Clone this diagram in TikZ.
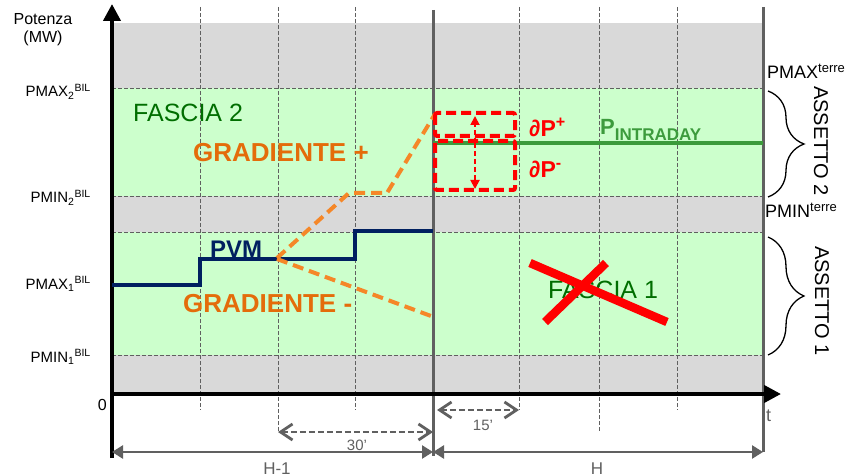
\documentclass[tikz,border=0pt]{standalone}
\usepackage{fontspec}
\setmainfont{Liberation Sans}
\usetikzlibrary{arrows.meta, positioning, decorations.pathreplacing}

\definecolor{bandgrey}{RGB}{217,217,217}
\definecolor{bandgreen}{RGB}{204,255,204}
\definecolor{fasciagreen}{RGB}{0,110,0}
\definecolor{gradorange}{RGB}{228,108,10}
\definecolor{lineorange}{RGB}{245,135,40}
\definecolor{pvmblue}{RGB}{0,32,96}
\definecolor{intragreen}{RGB}{60,155,60}
\definecolor{axisgrey}{RGB}{96,96,96}
\newcommand{\fsz}[1]{\fontsize{#1}{#1}\selectfont}

\begin{document}
\begin{tikzpicture}[x=1pt, y=-1pt,
    gridline/.style={axisgrey, line width=0.8pt, dash pattern=on 4pt off 2pt},
    hourline/.style={axisgrey, line width=3pt},
    axisline/.style={black, line width=4pt, -{Triangle[length=17pt,width=17pt]}},
    dimarrow/.style={axisgrey, line width=2.5pt, {Triangle[length=11pt,width=13pt]}-{Triangle[length=11pt,width=13pt]}},
    minarrow/.style={axisgrey, line width=2.8pt, dash pattern=on 6pt off 3pt, {Straight Barb[length=12pt,width=16pt]}-{Straight Barb[length=12pt,width=16pt]}},
    gradline/.style={lineorange, line width=4pt, dash pattern=on 11pt off 6pt},
    deltabox/.style={red, line width=4pt, dash pattern=on 10pt off 5pt, rounded corners=2pt},
    deltaarrow/.style={red, line width=1.8pt, dash pattern=on 5pt off 3pt, -{Triangle[length=9pt,width=9pt]}},
    levellabel/.style={font=\fsz{15}, anchor=base east, inner sep=0pt},
    terrelabel/.style={font=\fsz{18}, anchor=base west, inner sep=0pt},
    assetto/.style={font=\fsz{20}, rotate=-90, inner sep=0pt},
    fascia/.style={font=\fsz{25}, text=fasciagreen, anchor=base west, inner sep=0pt},
    gradlabel/.style={font=\fsz{26}\bfseries, text=gradorange, anchor=base west, inner sep=0pt},
    timelabel/.style={font=\fsz{17}, text=axisgrey, anchor=base, inner sep=0pt},
    minlabel/.style={font=\fsz{15}, text=axisgrey, anchor=base, inner sep=0pt},
    assettobrace/.style={decorate, decoration={brace, amplitude=36pt}, line width=1.3pt}
]
\useasboundingbox (0,0) rectangle (868,476);

% fasce
\fill[bandgrey] (112,23) rectangle (763,394);
\fill[bandgreen] (112,88) rectangle (763,196);
\fill[bandgreen] (112,232) rectangle (763,355);
\foreach \y in {88,196,232,355}
    \draw[gridline] (112,\y) -- (763,\y);

% quarti d'ora
\foreach \x/\b in {200/410, 278/432, 355/410, 519/410, 599/432, 677/410}
    \draw[gridline] (\x,7) -- (\x,\b);

% ore
\coordinate (h0) at (112,452);
\coordinate (h1) at (433,452);
\coordinate (h2) at (763,452);
\draw[hourline] (433,10) -- (h1) -- (433,456);
\draw[hourline] (763,7) -- (h2);

% assi
\coordinate (origin) at (112,394);
\coordinate (ytop) at (112,4);
\coordinate (xend) at (781,394);
\draw[axisline] (112,458) -- (ytop);
\draw[axisline] (origin) -- (xend);

\node[font=\fsz{16}, anchor=base, inner sep=0pt] (potenza) at (43,25) {Potenza};
\node[font=\fsz{16}, anchor=base, inner sep=0pt] (mw) at (43,43) {(MW)};
\node[levellabel] (pmax2) at (91,97) {PMAX\textsubscript{2}\textsuperscript{BIL}};
\node[levellabel] (pmin2) at (91,203) {PMIN\textsubscript{2}\textsuperscript{BIL}};
\node[levellabel] (pmax1) at (91,289) {PMAX\textsubscript{1}\textsuperscript{BIL}};
\node[levellabel] (pmin1) at (91,362) {PMIN\textsubscript{1}\textsuperscript{BIL}};
\node[font=\fsz{16}, anchor=base east, inner sep=0pt] (zero) at (107,410) {0};
\node[font=\fsz{18}, text=axisgrey, anchor=base west, inner sep=0pt] (tlab) at (766,421) {t};

% PVM
\draw[pvmblue, line width=3.5pt] (112,285) -- (200,285) -- (200,259) -- (355,259)
    -- (355,231) -- (433,231);
\node[font=\fsz{24}\bfseries, text=pvmblue, anchor=base west, inner sep=0pt] (pvm) at (210,257) {PVM};

% gradienti
\draw[gradline] (277,258) -- (349,193) -- (387,193) -- (435,114);
\draw[gradline] (277,259) -- (431,316);
\node[gradlabel] (gradp) at (193,162) {GRADIENTE +};
\node[gradlabel] (gradm) at (183,312) {GRADIENTE -};

\node[fascia] (fascia2) at (133,122) {FASCIA 2};
\node[fascia] (fascia1) at (548,298) {FASCIA 1};
\draw[red, line width=8.5pt] (530,263) -- (667,322);
\draw[red, line width=8.5pt] (545,322) -- (606,263);

% intraday
\coordinate (intra) at (475,143);
\draw[intragreen, line width=3.5pt] (433,143) -- (763,143);
\node[font=\fsz{22}\bfseries, text=intragreen, anchor=base west, inner sep=0pt] (pintra) at (600,135)
    {P\raisebox{-6pt}{\fsz{17}INTRADAY}};
\draw[deltabox] (435,113) rectangle (515,136);
\draw[deltabox] (435,141) rectangle (515,190);
\draw[deltaarrow] (intra) -- (475,116);
\draw[deltaarrow] (intra) -- (475,189);
\node[font=\fsz{23}\bfseries, text=red, anchor=base west, inner sep=0pt] (dpp) at (529,137) {∂P\textsuperscript{+}};
\node[font=\fsz{23}\bfseries, text=red, anchor=base west, inner sep=0pt] (dpm) at (529,178) {∂P\textsuperscript{-}};

% assetti
\node[terrelabel] (pmaxt) at (767,79) {PMAX\textsuperscript{\fsz{13}terre}};
\node[terrelabel] (pmint) at (765,218) {PMIN\textsuperscript{\fsz{13}terre}};
\draw[assettobrace] (768,91) -- (768,197);
\draw[assettobrace] (768,237) -- (768,355);
\node[assetto] (ass2) at (821,141) {ASSETTO 2};
\node[assetto] (ass1) at (822,301) {ASSETTO 1};

% tempi
\coordinate (m30a) at (278,432);
\coordinate (m30b) at (433,432);
\coordinate (m15a) at (437,410);
\coordinate (m15b) at (519,410);
\draw[minarrow] (m30a) -- (m30b);
\draw[minarrow] (m15a) -- (m15b);
\node[minlabel] (l30) at (357,450) {30’};
\node[minlabel] (l15) at (483,430) {15’};
\draw[dimarrow] (h0) -- (h1);
\draw[dimarrow] (h1) -- (h2);
\node[timelabel] (lh1) at (277,474) {H-1};
\node[timelabel] (lh) at (597,474) {H};
\end{tikzpicture}
\end{document}
